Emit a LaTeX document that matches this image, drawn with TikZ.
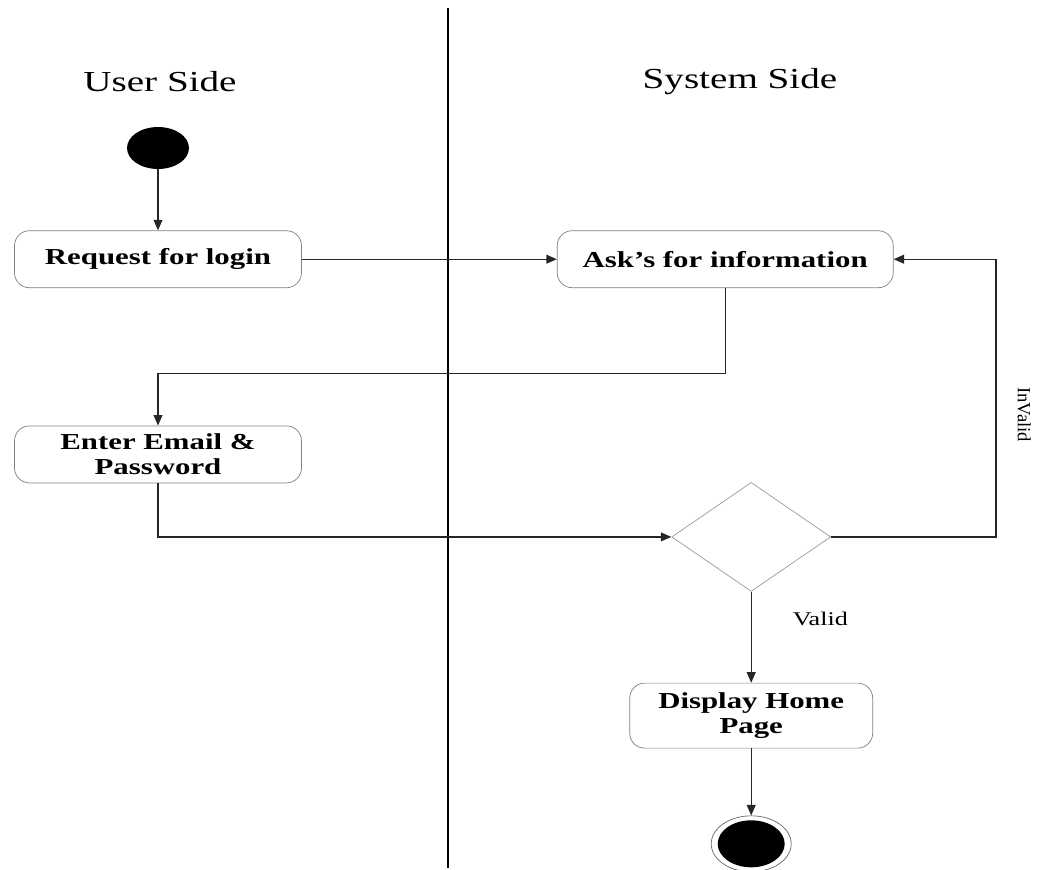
\documentclass[tikz,border=0pt]{standalone}
\usepackage{fontspec}
\setmainfont{Liberation Serif}[FakeStretch=1.35]
\newfontfamily\plainlabel{Liberation Serif}
\usetikzlibrary{shapes.geometric, arrows.meta, positioning, calc}
\tikzstyle{lane} = [font=\fontsize{16.5}{20}\selectfont]
\tikzstyle{activity} = [rectangle, rounded corners=0.3cm, minimum height=1.14cm, text centered, align=center, draw=black!50, font=\bfseries\fontsize{13}{14.5}\selectfont]
\tikzstyle{decision} = [diamond, minimum width=3.18cm, minimum height=2.18cm, aspect=1.46, inner sep=0pt, draw=black!40]
\tikzstyle{startdot} = [ellipse, fill=black, minimum width=1.24cm, minimum height=0.84cm, inner sep=0pt]
\tikzstyle{enddisk} = [ellipse, draw=black!60, fill=white, minimum width=1.6cm, minimum height=1.12cm, inner sep=0pt]
\tikzstyle{enddot} = [ellipse, fill=black, minimum width=1.34cm, minimum height=0.94cm, inner sep=0pt]
\tikzstyle{arrow} = [line width=0.8pt, draw=black!85, -{Triangle[length=6pt,width=5pt]}]
\tikzstyle{guard} = [font=\fontsize{11}{13}\selectfont]

\begin{document}
\begin{tikzpicture}[node distance=1.5cm]
\useasboundingbox (0,0) rectangle (21,-17.4);
\coordinate (lanetop) at (8.96,-0.16);
\coordinate (lanebot) at (8.96,-17.36);
\draw [line width=0.8pt] (lanetop) -- (lanebot);
\node (user) [lane] at (3.2,-1.64) {User Side};
\node (system) [lane] at (14.8,-1.64) {System Side};
\node (start) [startdot] at (3.16,-2.96) {};
\node (req) [activity, minimum width=5.74cm, below=1.22cm of start] {Request for login};
\node (ask) [activity, minimum width=6.72cm, right=5.1cm of req] {Ask's for information};
\node (enter) [activity, minimum width=5.74cm, below=2.75cm of req] {Enter Email \&\\ Password};
\node (dec) [decision, below=3.88cm of ask, xshift=0.52cm] {};
\node (home) [activity, minimum width=4.86cm, minimum height=1.3cm, below=1.82cm of dec] {Display Home\\ Page};
\node (end) [enddisk, below=1.34cm of home] {};
\node (endin) [enddot] at (end) {};
\draw [arrow] (start) -- (req);
\draw [arrow] (req) -- (ask);
\draw [arrow] (ask.south) -- ++(0,-1.71) -| (enter.north);
\draw [arrow] (enter.south) |- (dec.west);
\draw [arrow] (dec.east) -- ++(3.3,0) |- node[pos=0.22, xshift=0.3cm, rotate=-90, anchor=south, font=\plainlabel\fontsize{10.6}{12}\selectfont] {InValid} (ask.east);
\draw [arrow] (dec) -- node[pos=0.3, right=0.7cm, guard] {Valid} (home);
\draw [arrow] (home) -- (end);
\end{tikzpicture}
\end{document}
